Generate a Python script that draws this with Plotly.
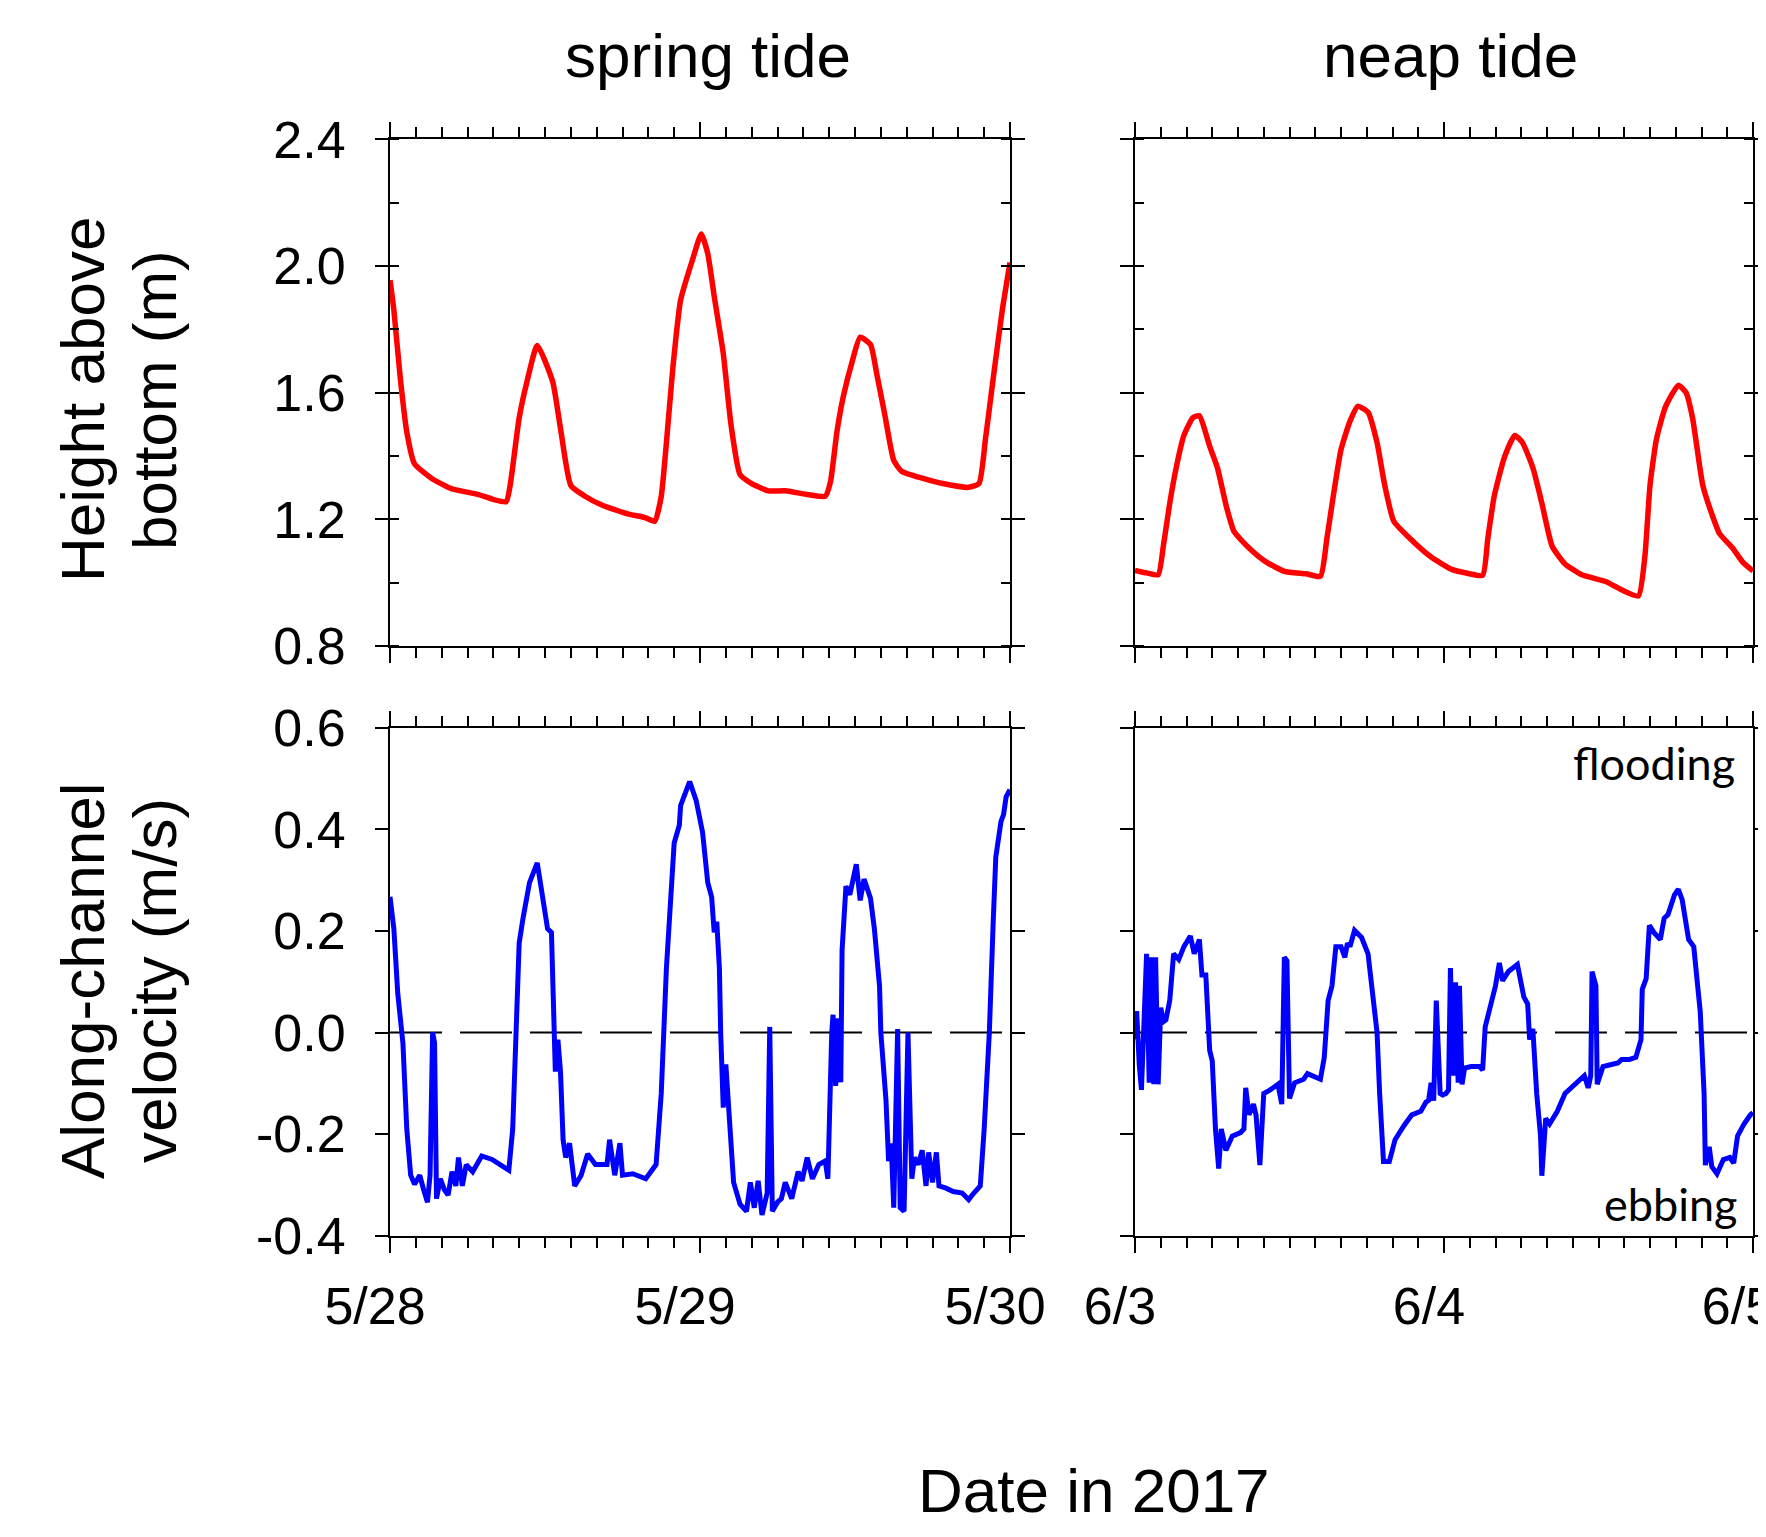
import plotly.graph_objects as go
import pandas as pd

# ---------------- data (hours after start of window) ----------------
spring_start = "2017-05-28 00:00"
neap_start = "2017-06-03 00:00"

spring_h_t = [0, 0.3, 0.8, 1.3, 1.9, 3.2, 4.8, 6.8, 8.05, 9.0, 9.3, 10.0, 10.6, 11.4, 12.6, 13.2, 14.0,
              15.1, 16.4, 18.4, 19.7, 20.5, 21.0, 21.4, 21.9, 22.5, 23.4, 24.1, 24.6, 25.1, 25.8, 26.4,
              27.1, 28.0, 29.3, 30.6, 32.2, 33.7, 34.1, 34.6, 35.1, 35.8, 36.4, 37.2, 37.7, 38.3, 39.0,
              39.6, 41.2, 42.8, 44.8, 45.6, 46.1, 46.7, 47.4, 48.0]
spring_height = [1.955, 1.86, 1.645, 1.476, 1.375, 1.33, 1.296, 1.279, 1.262, 1.256, 1.307, 1.52, 1.634,
                 1.749, 1.634, 1.487, 1.307, 1.273, 1.245, 1.217, 1.206, 1.194, 1.273, 1.442, 1.679,
                 1.893, 2.017, 2.101, 2.039, 1.904, 1.724, 1.499, 1.341, 1.313, 1.290, 1.290, 1.279,
                 1.273, 1.318, 1.476, 1.589, 1.701, 1.775, 1.752, 1.656, 1.532, 1.386, 1.352, 1.330,
                 1.313, 1.301, 1.313, 1.453, 1.645, 1.86, 2.011]

neap_h_t = [0, 0.9, 1.8, 2.2, 2.7, 3.2, 3.8, 4.5, 5.0, 5.8, 6.4, 7.1, 7.7, 9.0, 10.2, 11.6, 13.3, 14.4,
            14.9, 15.4, 16.0, 16.7, 17.3, 18.1, 18.8, 19.4, 20.1, 21.4, 23.0, 24.6, 25.9, 27.0, 27.4,
            27.9, 28.7, 29.5, 30.1, 30.9, 31.6, 32.4, 33.4, 34.7, 36.6, 37.9, 39.1, 39.6, 40.0, 40.5,
            41.2, 42.2, 42.8, 43.3, 44.1, 44.8, 45.4, 46.4, 47.2, 48.0]
neap_height = [1.039, 1.031, 1.025, 1.115, 1.251, 1.363, 1.465, 1.521, 1.527, 1.431, 1.363, 1.240, 1.161,
               1.104, 1.065, 1.036, 1.028, 1.020, 1.138, 1.273, 1.420, 1.510, 1.557, 1.538, 1.442,
               1.307, 1.194, 1.138, 1.081, 1.042, 1.029, 1.023, 1.138, 1.273, 1.397, 1.465, 1.442,
               1.363, 1.251, 1.115, 1.059, 1.025, 1.003, 0.975, 0.958, 1.082, 1.307, 1.453, 1.555,
               1.623, 1.600, 1.521, 1.307, 1.217, 1.155, 1.110, 1.065, 1.037]

spring_v_t = [0, 0.3, 0.6, 1.0, 1.3, 1.6, 1.9, 2.3, 2.6, 2.9, 3.1, 3.3, 3.45, 3.6, 3.9, 4.2, 4.5, 4.8,
              5.1, 5.3, 5.6, 5.9, 6.4, 7.1, 7.9, 8.5, 9.2, 9.5, 9.8, 10.0, 10.3, 10.8, 11.4, 11.8, 12.2,
              12.5, 12.7, 12.8, 13.0, 13.2, 13.4, 13.6, 13.9, 14.3, 14.8, 15.3, 15.9, 16.8, 17.0, 17.4,
              17.8, 18.0, 18.8, 19.8, 20.6, 21.0, 21.4, 21.7, 22.0, 22.4, 22.5, 23.2, 23.7, 24.2, 24.6,
              24.9, 25.1, 25.3, 25.5, 25.6, 25.8, 26.0, 26.2, 26.6, 27.1, 27.6, 27.9, 28.2, 28.5, 28.8,
              29.2, 29.4, 29.6, 30.0, 30.3, 30.6, 31.1, 31.6, 31.9, 32.3, 32.7, 33.2, 33.7, 33.9, 34.2,
              34.3, 34.5, 34.7, 34.9, 35.0, 35.3, 35.6, 36.1, 36.4, 36.7, 37.2, 37.5, 37.9, 38.0, 38.4,
              38.6, 38.8, 39.0, 39.3, 39.5, 39.8, 40.1, 40.4, 40.6, 40.9, 41.2, 41.5, 41.7, 42.0, 42.3,
              42.5, 43.0, 43.6, 44.3, 44.8, 45.2, 45.7, 46.0, 46.4, 46.7, 46.9, 47.3, 47.5, 47.7, 48.0]
spring_velocity = [0.267, 0.204, 0.077, -0.021, -0.19, -0.281, -0.299, -0.281, -0.309, -0.334, -0.281,
                   0.0, -0.02, -0.327, -0.288, -0.309, -0.320, -0.274, -0.302, -0.246, -0.302, -0.260,
                   -0.274, -0.243, -0.250, -0.260, -0.271, -0.19, 0.0, 0.176, 0.225, 0.295, 0.334,
                   0.274, 0.204, 0.197, 0.0, -0.077, -0.014, -0.077, -0.211, -0.246, -0.218, -0.302,
                   -0.281, -0.239, -0.260, -0.260, -0.211, -0.281, -0.218, -0.281, -0.278, -0.288,
                   -0.260, -0.120, 0.127, 0.267, 0.373, 0.408, 0.447, 0.494, 0.457, 0.394, 0.295,
                   0.267, 0.197, 0.218, 0.127, 0.0, -0.148, -0.063, -0.155, -0.295, -0.338, -0.352,
                   -0.295, -0.345, -0.292, -0.359, -0.316, 0.011, -0.352, -0.334, -0.327, -0.295,
                   -0.327, -0.274, -0.292, -0.246, -0.288, -0.260, -0.253, -0.288, 0.0, 0.035, -0.105,
                   0.028, -0.098, 0.162, 0.288, 0.271, 0.331, 0.260, 0.302, 0.264, 0.204, 0.091, 0.0,
                   -0.134, -0.253, -0.218, -0.345, 0.007, -0.345, -0.352, 0.0, -0.288, -0.246, -0.260,
                   -0.232, -0.302, -0.236, -0.295, -0.236, -0.302, -0.306, -0.313, -0.316, -0.329,
                   -0.316, -0.302, -0.19, 0.0, 0.218, 0.345, 0.415, 0.429, 0.464, 0.478]

neap_v_t = [0, 0.13, 0.33, 0.5, 0.7, 0.9, 1.1, 1.27, 1.46, 1.6, 1.8, 2.0, 2.2, 2.4, 2.7, 3.0, 3.4, 3.8,
            4.3, 4.6, 5.0, 5.2, 5.5, 5.8, 6.0, 6.25, 6.5, 6.7, 7.06, 7.55, 8.2, 8.46, 8.6, 8.85, 9.2,
            9.4, 9.7, 10.0, 10.5, 11.1, 11.4, 11.6, 11.8, 12.0, 12.4, 13.1, 13.4, 14.4, 14.7, 15.0,
            15.3, 15.6, 16.0, 16.3, 16.5, 16.7, 17.05, 17.6, 18.1, 18.4, 18.8, 19.0, 19.3, 19.75,
            20.2, 20.9, 21.5, 22.2, 22.6, 22.8, 23.0, 23.2, 23.4, 23.7, 23.9, 24.15, 24.35, 24.5,
            24.7, 24.9, 25.1, 25.2, 25.4, 25.6, 26.1, 26.75, 27.0, 27.2, 27.6, 28.0, 28.3, 28.55,
            29.0, 29.7, 30.2, 30.5, 30.65, 30.9, 31.2, 31.5, 31.6, 31.9, 32.2, 32.8, 33.4, 34.25,
            34.9, 35.2, 35.4, 35.5, 35.8, 35.9, 36.35, 37.0, 37.5, 37.8, 38.4, 38.9, 39.3, 39.4,
            39.7, 39.95, 40.3, 40.8, 41.1, 41.4, 41.9, 42.2, 42.5, 43.0, 43.4, 43.7, 43.9, 44.2,
            44.3, 44.6, 44.8, 45.2, 45.7, 46.2, 46.5, 46.8, 47.3, 47.8, 48.0]
neap_velocity = [-0.014, 0.042, -0.063, -0.113, 0.021, 0.155, -0.099, 0.148, -0.102, 0.148, -0.102,
                 0.049, 0.021, 0.025, 0.063, 0.155, 0.144, 0.169, 0.190, 0.155, 0.183, 0.113, 0.113,
                 -0.035, -0.056, -0.190, -0.268, -0.190, -0.232, -0.204, -0.197, -0.190, -0.109,
                 -0.162, -0.141, -0.162, -0.261, -0.120, -0.113, -0.102, -0.141, 0.148, 0.141,
                 -0.130, -0.099, -0.092, -0.081, -0.092, -0.049, 0.063, 0.092, 0.169, 0.169, 0.148,
                 0.176, 0.169, 0.201, 0.187, 0.155, 0.092, 0.0, -0.120, -0.254, -0.254, -0.211,
                 -0.183, -0.162, -0.155, -0.137, -0.134, -0.099, -0.134, 0.063, -0.120, -0.123,
                 -0.120, -0.113, 0.127, -0.085, 0.099, -0.099, 0.092, -0.102, -0.070, -0.067, -0.067,
                 -0.074, 0.011, 0.056, 0.092, 0.137, 0.102, 0.120, 0.134, 0.070, 0.056, -0.014,
                 0.007, -0.120, -0.204, -0.282, -0.169, -0.180, -0.155, -0.120, -0.099, -0.085,
                 -0.109, -0.085, 0.120, 0.092, -0.102, -0.067, -0.063, -0.060, -0.053, -0.053,
                 -0.049, -0.014, 0.085, 0.106, 0.211, 0.197, 0.183, 0.225, 0.232, 0.271, 0.282,
                 0.261, 0.183, 0.169, 0.092, 0.042, -0.120, -0.261, -0.225, -0.264, -0.278, -0.250,
                 -0.246, -0.257, -0.204, -0.180, -0.162, -0.158]

height_ticks = [0.8, 1.2, 1.6, 2.0, 2.4]
velocity_ticks = [-0.4, -0.2, 0.0, 0.2, 0.4, 0.6]
velocity_ticktext = ["-0.4", "-0.2", "0.0", "0.2", "0.4", "0.6"]
panel_titles = ["spring tide", "neap tide"]


def to_time(start, hours):
    t0 = pd.Timestamp(start)
    return [t0 + pd.Timedelta(hours=h) for h in hours]


FONT = "Liberation Sans, Arial, sans-serif"
RED = "#ff0000"
BLUE = "#0000ff"

fig = go.Figure()
fig.add_trace(go.Scatter(x=to_time(spring_start, spring_h_t), y=spring_height, mode="lines",
                         line=dict(color=RED, width=5.5, shape="spline", smoothing=0.5),
                         xaxis="x", yaxis="y", showlegend=False))
fig.add_trace(go.Scatter(x=to_time(neap_start, neap_h_t), y=neap_height, mode="lines",
                         line=dict(color=RED, width=5.5, shape="spline", smoothing=0.5),
                         xaxis="x2", yaxis="y2", showlegend=False))
fig.add_trace(go.Scatter(x=to_time(spring_start, spring_v_t), y=spring_velocity, mode="lines",
                         line=dict(color=BLUE, width=5), xaxis="x3", yaxis="y3", showlegend=False))
fig.add_trace(go.Scatter(x=to_time(neap_start, neap_v_t), y=neap_velocity, mode="lines",
                         line=dict(color=BLUE, width=5), xaxis="x4", yaxis="y4", showlegend=False))

# the page body has an 8px default margin: size the figure so it fills the window exactly
OFF = 8
W, H = 1766 - OFF, 1537 - OFF


def px(v):
    return (v - OFF) / W


def py(v):
    return 1 - (v - OFF) / H


xdom1 = [px(390), px(1010)]
xdom2 = [px(1135), px(1753)]
ydom_top = [py(646), py(139.3)]
ydom_bot = [py(1235.7), py(727.7)]

tickfont = dict(family=FONT, size=52, color="black")


def xaxis(start, dom, anchor, labels):
    t0 = pd.Timestamp(start)
    return dict(type="date", domain=dom, anchor=anchor, automargin=False,
                range=[t0, t0 + pd.Timedelta(days=2)],
                showline=True, linecolor="black", linewidth=2, mirror="ticks",
                ticks="outside", ticklen=15, tickwidth=2, tickcolor="black",
                tick0=t0, dtick=86400000, tickformat="%-m/%-d",
                showticklabels=labels, tickfont=tickfont, ticklabelshift=-15,
                ticklabelstandoff=9, ticklabeloverflow="allow",
                minor=dict(ticks="outside", ticklen=10, tickwidth=1.8, tickcolor="black",
                           dtick=7200000, tick0=t0, showgrid=False),
                showgrid=False, zeroline=False)


fig.update_layout(
    width=W, height=H, autosize=False,
    margin=dict(l=0, r=0, t=0, b=0, pad=0, autoexpand=False),
    paper_bgcolor="white", plot_bgcolor="white",
    font=dict(family=FONT, color="black"),
    xaxis=xaxis(spring_start, xdom1, "y", False),
    xaxis2=xaxis(neap_start, xdom2, "y2", False),
    xaxis3=xaxis(spring_start, xdom1, "y3", True),
    xaxis4=xaxis(neap_start, xdom2, "y4", True),
)

for name, anchor, labels in [("yaxis", "x", True), ("yaxis2", "x2", False)]:
    fig.update_layout({name: dict(domain=ydom_top, anchor=anchor, range=[0.8, 2.4], automargin=False,
                                  tickmode="linear", tick0=0.8, dtick=0.4, tickformat=".1f",
                                  showline=True, linecolor="black", linewidth=2, mirror="ticks",
                                  ticks="outside", ticklen=13, tickwidth=2, tickcolor="black",
                                  showticklabels=labels, tickfont=tickfont, ticklabelstandoff=19,
                                  minor=dict(ticks="inside", ticklen=9, tickwidth=1.8,
                                             tickcolor="black", dtick=0.2, tick0=0.8,
                                             showgrid=False),
                                  showgrid=False, zeroline=False)})

for name, anchor, labels in [("yaxis3", "x3", True), ("yaxis4", "x4", False)]:
    fig.update_layout({name: dict(domain=ydom_bot, anchor=anchor, range=[-0.4, 0.6], automargin=False,
                                  tickmode="array", tickvals=velocity_ticks,
                                  ticktext=velocity_ticktext,
                                  showline=True, linecolor="black", linewidth=2, mirror="ticks",
                                  ticks="outside", ticklen=13, tickwidth=2, tickcolor="black",
                                  showticklabels=labels, tickfont=tickfont, ticklabelstandoff=19,
                                  showgrid=False, zeroline=False)})

# dashed zero lines in velocity panels
for xr, yr in [("x3", "y3"), ("x4", "y4")]:
    fig.add_shape(type="line", xref=f"{xr} domain", yref=yr, x0=0, x1=1, y0=0, y1=0,
                  line=dict(color="black", width=2, dash="52px,18px"), layer="below")

ann_font = dict(family=FONT, size=62, color="black")
# panel titles
fig.add_annotation(text=panel_titles[0], xref="x domain", x=0.5, xshift=8, yref="paper",
                   y=py(55), xanchor="center", yanchor="middle", showarrow=False, font=ann_font)
fig.add_annotation(text=panel_titles[1], xref="x2 domain", x=0.5, xshift=6, yref="paper",
                   y=py(55), xanchor="center", yanchor="middle", showarrow=False, font=ann_font)
# y-axis titles (two lines each)
for txt, cx, cy in [("Height above", 82, 400), ("bottom (m)", 154, 400),
                    ("Along-channel", 82, 981), ("velocity (m/s)", 154, 981)]:
    fig.add_annotation(text=txt, xref="paper", yref="paper", x=px(cx), y=py(cy),
                       xanchor="center", yanchor="middle", textangle=-90, showarrow=False,
                       font=ann_font)
# x-axis title
fig.add_annotation(text="Date in 2017", xref="paper", yref="paper", x=px(1093.6), y=py(1490),
                   xanchor="center", yanchor="middle", showarrow=False, font=ann_font)
# flooding / ebbing labels
lab_font = dict(family="Lato, Carlito, sans-serif", size=45, color="black")
fig.add_annotation(text="flooding", xref="paper", yref="paper", x=px(1737), y=py(763),
                   xanchor="right", yanchor="middle", showarrow=False, font=lab_font)
fig.add_annotation(text="ebbing", xref="paper", yref="paper", x=px(1739), y=py(1204),
                   xanchor="right", yanchor="middle", showarrow=False, font=lab_font)

fig.write_html("out.html")
